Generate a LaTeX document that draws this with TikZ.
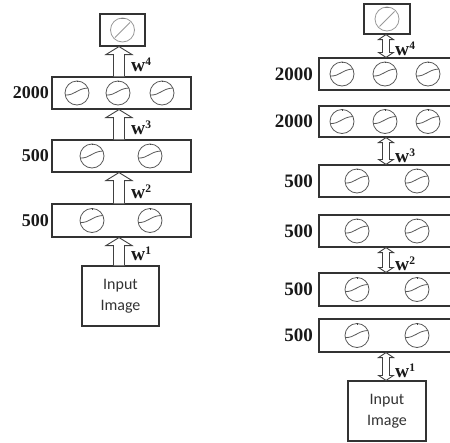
\documentclass[tikz,border=0pt]{standalone}
\usepackage{fontspec}
\setmainfont{Liberation Serif}
\newfontfamily\sansf{Carlito}
\usetikzlibrary{calc}
\newcommand\blockup[3]{% lower node, upper node, axis coordinate
  \draw[harrow] let \p1=(#1.north -| #3), \p2=(#2.south -| #3) in
   (\x1-5.5pt,\y1) -- (\x1-5.5pt,\y2-8pt) -- (\x1-13pt,\y2-8pt) -- (\x1,\y2)
   -- (\x1+13pt,\y2-8pt) -- (\x1+5.5pt,\y2-8pt) -- (\x1+5.5pt,\y1);}
\newcommand\dblarr[3]{%
  \draw[harrow] let \p1=(#1.north -| #3), \p2=(#2.south -| #3) in
   (\x1,\y1) -- (\x1-7.5pt,\y1+5pt) -- (\x1-3.5pt,\y1+5pt) -- (\x1-3.5pt,\y2-5pt)
   -- (\x1-7.5pt,\y2-5pt) -- (\x1,\y2) -- (\x1+7.5pt,\y2-5pt) -- (\x1+3.5pt,\y2-5pt)
   -- (\x1+3.5pt,\y1+5pt) -- (\x1+7.5pt,\y1+5pt) -- cycle;}
\newcommand\wl[1]{\textbf{w}\raisebox{6pt}{\fontsize{11.5}{11.5}\selectfont\bfseries #1}}
\begin{document}
\begin{tikzpicture}[x=1pt,y=-1pt,
  layer/.style={draw=black!80, line width=1.1pt, rectangle, inner sep=0pt},
  numlab/.style={font=\bfseries\fontsize{18}{18}\selectfont, anchor=east, inner sep=0pt, text=black!90},
  numlabr/.style={font=\bfseries\fontsize{19}{19}\selectfont, anchor=east, inner sep=0pt, text=black!90},
  wlab/.style={font=\fontsize{19.5}{19.5}\selectfont, anchor=base west, inner sep=0pt, text=black!90},
  harrow/.style={draw=black!75, line width=0.9pt, fill=white},
  intext/.style={font=\sansf\fontsize{16}{21}\selectfont, align=center, text=black!80},
  sig/.pic={
    \draw[black!65, line width=0.8pt] (0,0) circle (12);
    \draw[black!65, line width=0.8pt] (-11.8,2) .. controls (-2,2.5) and (0,-4.5) .. (10.9,-5);
    \draw[black!75, line width=0.7pt] (0,-12.5) -- (0,-10.8);},
  lin/.pic={
    \draw[black!40, line width=0.8pt] (0,0) circle (12);
    \draw[black!40, line width=0.8pt] (-7.5,7.5) -- (7.5,-7.5);
    \draw[black!50, line width=0.7pt] (-2,-12) -- (2,-12);}
]
\useasboundingbox (0,0) rectangle (450,442);
\clip (0,0) rectangle (450,442);
\fill[white] (0,0) rectangle (450,442);
\coordinate (axL) at (119,0);
\coordinate (axR) at (386,0);
% ---------- left column ----------
\node[layer, minimum width=45pt, minimum height=32pt] (Lout) at (122.5,30) {};
\node[layer, minimum width=139pt, minimum height=32pt] (L3) at (121.5,93) {};
\node[layer, minimum width=139pt, minimum height=32pt] (L2) at (121.5,156) {};
\node[layer, minimum width=139pt, minimum height=33pt] (L1) at (121.5,220.5) {};
\node[layer, minimum width=77pt, minimum height=60pt, intext] (Lin) at (120.5,296) {Input\\Image};
\pic at (122.5,30) {lin};
\pic at (77,93) {sig}; \pic at (118,93) {sig}; \pic at (162,93) {sig};
\pic at (92,156) {sig}; \pic at (150,156) {sig};
\pic at (92,220.5) {sig}; \pic at (150,220.5) {sig};
\node[numlab] (lL3) at (49,93) {2000};
\node[numlab] (lL2) at (49,156) {500};
\node[numlab] (lL1) at (49,220.5) {500};
\blockup{L3}{Lout}{axL}
\blockup{L2}{L3}{axL}
\blockup{L1}{L2}{axL}
\blockup{Lin}{L1}{axL}
\node[wlab] (wL4) at (131,71) {\wl{4}};
\node[wlab] (wL3) at (131,134) {\wl{3}};
\node[wlab] (wL2) at (131,198) {\wl{2}};
\node[wlab] (wL1) at (131,260) {\wl{1}};
% ---------- right column ----------
\node[layer, minimum width=46pt, minimum height=30pt] (Rout) at (387,19) {};
\node[layer, minimum width=141pt, minimum height=32pt] (Ra) at (389.5,74) {};
\node[layer, minimum width=141pt, minimum height=31pt] (Rb) at (389.5,121.5) {};
\node[layer, minimum width=141pt, minimum height=32pt] (Rc) at (389.5,181) {};
\node[layer, minimum width=141pt, minimum height=32pt] (Rd) at (389.5,231) {};
\node[layer, minimum width=141pt, minimum height=33pt] (Re) at (389.5,289.5) {};
\node[layer, minimum width=141pt, minimum height=33pt] (Rf) at (389.5,335.5) {};
\node[layer, minimum width=78pt, minimum height=60pt, intext] (Rin) at (387,411) {Input\\Image};
\pic at (387,19) {lin};
\foreach \yy in {74,121.5} {\pic at (342,\yy) {sig}; \pic at (385,\yy) {sig}; \pic at (428,\yy) {sig};}
\foreach \yy in {181,231,289.5,335.5} {\pic at (357,\yy) {sig}; \pic at (417,\yy) {sig};}
\node[numlabr] (lRa) at (313,74) {2000};
\node[numlabr] (lRb) at (313,121.5) {2000};
\node[numlabr] (lRc) at (313,181) {500};
\node[numlabr] (lRd) at (313,231) {500};
\node[numlabr] (lRe) at (313,289.5) {500};
\node[numlabr] (lRf) at (313,335.5) {500};
\dblarr{Ra}{Rout}{axR}
\dblarr{Rc}{Rb}{axR}
\dblarr{Re}{Rd}{axR}
\dblarr{Rin}{Rf}{axR}
\node[wlab] (wR4) at (395,55) {\wl{4}};
\node[wlab] (wR3) at (395,162) {\wl{3}};
\node[wlab] (wR2) at (395,270) {\wl{2}};
\node[wlab] (wR1) at (395,377) {\wl{1}};
\end{tikzpicture}
\end{document}
